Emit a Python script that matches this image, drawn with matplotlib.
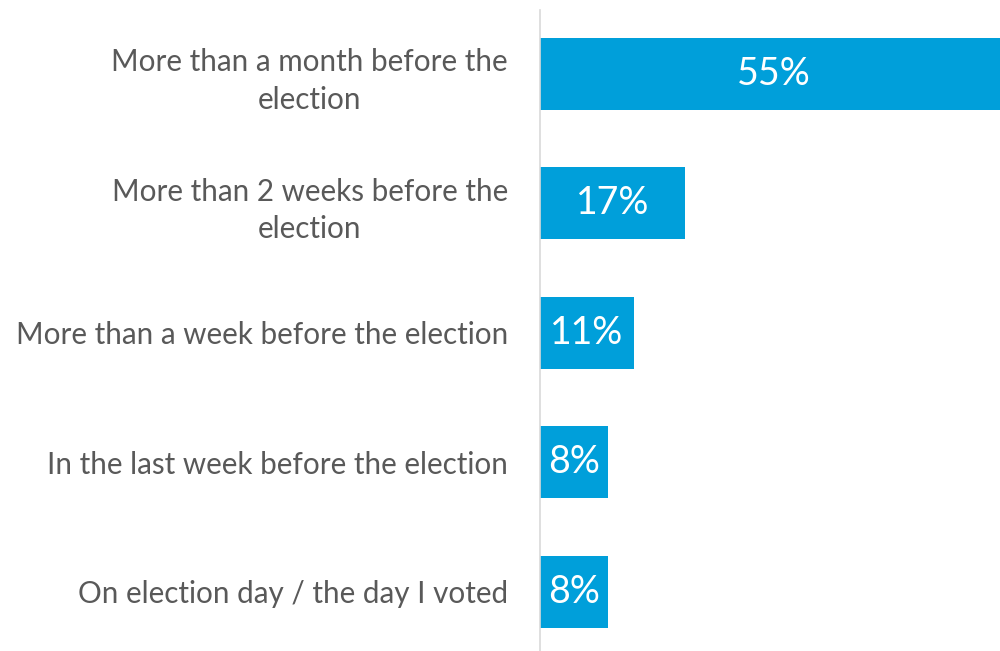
import matplotlib.pyplot as plt

# data
categories = [
    "More than a month before the\nelection",
    "More than 2 weeks before the\nelection",
    "More than a week before the election",
    "In the last week before the election",
    "On election day / the day I voted",
]
values = [55, 17, 11, 8, 8]

BAR_COLOR = "#009FDA"
TEXT_COLOR = "#595959"

plt.rcParams['font.family'] = ['Lato', 'DejaVu Sans']

fig = plt.figure(figsize=(10, 6.51), dpi=100)
ax = fig.add_axes([0.540, 0.0, 0.460, 641 / 651])

ypos = list(range(len(categories)))
bars = ax.barh(ypos, values, height=0.556, color=BAR_COLOR)

ax.set_xlim(0, 54)
ax.set_ylim(len(categories) - 1 + 0.456, -0.494)

for bar, val in zip(bars, values):
    ax.text(bar.get_width() / 2, bar.get_y() + bar.get_height() / 2, f"{val}%",
            ha='center', va='center', color='white', fontsize=27)

ax.set_yticks(ypos)
ax.set_yticklabels(categories, fontsize=21.3, color=TEXT_COLOR, ha='right',
                   multialignment='center', linespacing=1.4)
ax.tick_params(axis='y', length=0, pad=23)
ax.set_xticks([])

for side in ['top', 'right', 'bottom']:
    ax.spines[side].set_visible(False)
ax.spines['left'].set_color('#D9D9D9')
ax.spines['left'].set_linewidth(1.2)

fig.savefig("out.png", dpi=100)
